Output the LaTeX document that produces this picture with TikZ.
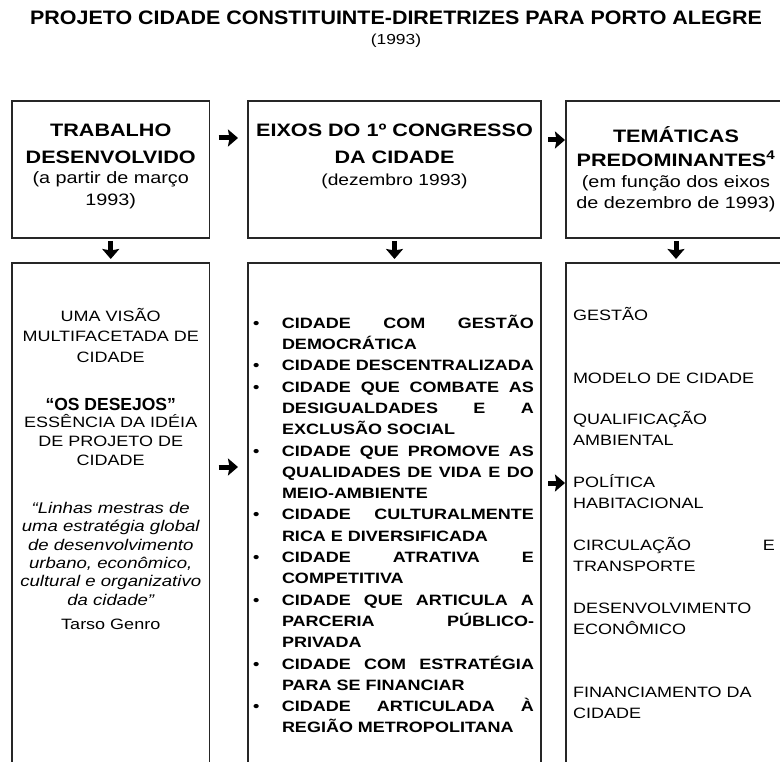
\documentclass[tikz,border=0pt]{standalone}
\usepackage{fontspec}
\setmainfont{Liberation Sans}
\newfontfamily\wf{Liberation Sans}[FakeStretch=1.2]
\newfontfamily\tf{Liberation Sans}[FakeStretch=1.1]
\usetikzlibrary{arrows.meta}
\newcommand\fs[2]{\fontsize{#1}{#2}\selectfont}
\newcommand\bitem[1]{\par\hangindent=32pt\hangafter=1\noindent\makebox[32pt][l]{\hspace{3pt}\textbullet}#1\par}
\tikzset{
  box/.style={draw=black!85, line width=1.4pt, anchor=north west, inner sep=0pt, outer sep=0pt},
  txt/.style={inner sep=0pt, outer sep=0pt},
  arr/.style={line width=5pt, -{Stealth[length=10pt,width=17pt,inset=1.5pt]}},
}
\begin{document}
\begin{tikzpicture}[x=1pt,y=-1pt]
\useasboundingbox (0,0) rectangle (780,762);
\clip (0,0) rectangle (780,762);

% title
\node[txt, anchor=base, font=\tf\bfseries\fs{19.5}{22}] (title) at (396,25) {PROJETO CIDADE CONSTITUINTE-DIRETRIZES PARA PORTO ALEGRE};
\node[txt, anchor=base, font=\wf\fs{14.5}{16}] (year) at (396,45) {(1993)};

% boxes
\node[box, minimum width=197.5pt, minimum height=137pt] (t1) at (12,101) {};
\node[box, minimum width=293pt, minimum height=137pt] (t2) at (248,101) {};
\node[box, minimum width=225pt, minimum height=137pt] (t3) at (566,101) {};
\node[box, minimum width=197.5pt, minimum height=530pt] (b1) at (12,263) {};
\node[box, minimum width=293pt, minimum height=530pt] (b2) at (248,263) {};
\node[box, minimum width=225pt, minimum height=530pt] (b3) at (566,263) {};

% top box texts
\node[txt, anchor=north, align=center, font=\wf\bfseries\fs{18}{26.5}] (t1h) at (110.75,124) {TRABALHO\\DESENVOLVIDO};
\node[txt, anchor=north, align=center, font=\wf\fs{16.5}{22}] (t1s) at (110.75,172) {(a partir de março\\1993)};
\node[txt, anchor=north, align=center, font=\wf\bfseries\fs{18}{27}] (t2h) at (394.5,124) {EIXOS DO 1º CONGRESSO\\DA CIDADE};
\node[txt, anchor=north, align=center, font=\wf\fs{16}{21}] (t2s) at (394.5,174) {(dezembro 1993)};
\node[txt, anchor=north, align=center, font=\wf\bfseries\fs{18}{24}] (t3h) at (676,126.3) {TEMÁTICAS\\PREDOMINANTES\textsuperscript{4}};
\node[txt, anchor=north, align=center, font=\wf\fs{16.5}{21}] (t3s) at (676,176) {(em função dos eixos\\de dezembro de 1993)};

% left bottom box
\node[txt, anchor=north, align=center, font=\wf\fs{15}{20.5}] (l1) at (110.75,308) {UMA VISÃO\\MULTIFACETADA DE\\CIDADE};
\node[txt, anchor=base, font=\bfseries\fs{17.5}{20}] (l2) at (110.75,410) {“OS DESEJOS”};
\node[txt, anchor=north, align=center, font=\wf\fs{15}{19}] (l3) at (110.75,414) {ESSÊNCIA DA IDÉIA\\DE PROJETO DE\\CIDADE};
\node[txt, anchor=north, align=center, font=\wf\itshape\fs{15.5}{18.4}] (l4) at (110.75,502) {“Linhas mestras de\\uma estratégia global\\de desenvolvimento\\urbano, econômico,\\cultural e organizativo\\da cidade”};
\node[txt, anchor=base, font=\wf\fs{15}{18}] (l5) at (110.75,629) {Tarso Genro};

% middle bottom box
\node[txt, anchor=north west, text width=284pt, align=justify, font=\wf\bfseries\fs{15}{21.3}] (mlist) at (250,307) {\hyphenpenalty=10000\tolerance=10000%
\bitem{CIDADE COM GESTÃO\linebreak DEMOCRÁTICA}%
\bitem{CIDADE DESCENTRALIZADA}%
\bitem{CIDADE QUE COMBATE AS\linebreak DESIGUALDADES E A\linebreak EXCLUSÃO SOCIAL}%
\bitem{CIDADE QUE PROMOVE AS\linebreak QUALIDADES DE VIDA E DO\linebreak MEIO-AMBIENTE}%
\bitem{CIDADE CULTURALMENTE\linebreak RICA E DIVERSIFICADA}%
\bitem{CIDADE ATRATIVA E\linebreak COMPETITIVA}%
\bitem{CIDADE QUE ARTICULA A\linebreak PARCERIA PÚBLICO-\linebreak PRIVADA}%
\bitem{CIDADE COM ESTRATÉGIA\linebreak PARA SE FINANCIAR}%
\bitem{CIDADE ARTICULADA À\linebreak REGIÃO METROPOLITANA}};

% right bottom box
\node[txt, anchor=north west, text width=202pt, align=justify, font=\wf\fs{15}{20.95}] (rlist) at (573,307) {\hyphenpenalty=10000\tolerance=10000%
GESTÃO\\[41.9pt]MODELO DE CIDADE\\[20.95pt]QUALIFICAÇÃO\\AMBIENTAL\\[20.95pt]POLÍTICA\\HABITACIONAL\\[20.95pt]CIRCULAÇÃO E\linebreak TRANSPORTE\\[20.95pt]DESENVOLVIMENTO\\ECONÔMICO\\[41.9pt]FINANCIAMENTO DA\\CIDADE};

% arrows
\draw[arr, shorten <=9pt, shorten >=10pt] (t1.east |- 0,138) -- (t2.west |- 0,138);
\draw[arr, shorten <=7pt, shorten >=1pt] (t2.east |- 0,140) -- (t3.west |- 0,140);
\draw[arr, shorten <=3pt, shorten >=4pt] (t1.south) -- (b1.north);
\draw[arr, shorten <=3pt, shorten >=4pt] (t2.south) -- (b2.north);
\draw[arr, shorten <=3pt, shorten >=4pt] (t3.south -| t3h.south) -- (b3.north -| t3h.south);
\draw[arr, shorten <=9pt, shorten >=10pt] (b1.east |- 0,467) -- (b2.west |- 0,467);
\draw[arr, shorten <=7pt, shorten >=1pt] (b2.east |- 0,483) -- (b3.west |- 0,483);
\end{tikzpicture}
\end{document}
